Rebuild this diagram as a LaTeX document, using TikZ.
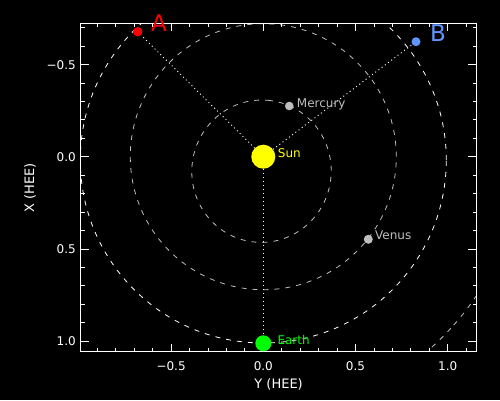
\documentclass[tikz,border=0pt]{standalone}
\usepackage{fontspec}
\setmainfont{DejaVu Sans}
\definecolor{pgray}{RGB}{190,190,190}
\definecolor{bblue}{RGB}{95,150,255}
\definecolor{sunyel}{RGB}{255,255,0}
\definecolor{egreen}{RGB}{0,255,0}
\definecolor{ared}{RGB}{255,0,0}
\begin{document}
\begin{tikzpicture}[x=1pt,y=-1pt,
  tickline/.style={white, line width=0.8pt},
  ticklab/.style={text=white, font=\fontsize{12}{14}\selectfont, inner sep=0pt},
  axtitle/.style={text=white, font=\fontsize{13}{15}\selectfont, inner sep=0pt},
  orbit/.style={line width=0.8pt, dash pattern=on 5pt off 6pt},
  sight/.style={white, line width=0.9pt, dash pattern=on 1pt off 3pt},
  body/.style={circle, inner sep=0pt, draw=none},
  lab/.style={inner sep=0pt, anchor=base west, font=\fontsize{12}{14}\selectfont},
  biglab/.style={inner sep=0pt, anchor=base west, font=\fontsize{23}{26}\selectfont}]
\fill[black] (0,0) rectangle (500,400);
\useasboundingbox (0,0) rectangle (500,400);
% orbits
\begin{scope}
\clip (80.5,23.5) rectangle (476.7,351);
\draw[orbit, pgray] (261.5,171.2) circle[x radius=71.2pt, y radius=69.7pt, rotate=83];
\draw[orbit, pgray] (263.3,156.7) circle[radius=133pt];
\draw[orbit, white] (263.3,160) circle[radius=183pt];
\draw[orbit, pgray] (243.7,139.3) circle[x radius=280.4pt, y radius=279.2pt, rotate=-41.5];
\end{scope}
% frame
\draw[tickline] (80.5,23.5) rectangle (476.7,351);
% horizontal axis ticks
\foreach \v in {-9,...,11}{
  \pgfmathsetmacro\tx{263.3+18.44*\v}
  \draw[tickline] (\tx,351) -- ++(0,-3.5);
  \draw[tickline] (\tx,23.5) -- ++(0,3.5);
}
\foreach \v/\t in {-5/−0.5,0/0.0,5/0.5,10/1.0}{
  \pgfmathsetmacro\tx{263.3+18.44*\v}
  \draw[tickline] (\tx,351) -- ++(0,-7);
  \draw[tickline] (\tx,23.5) -- ++(0,7);
  \node[ticklab, anchor=base] (bl\v) at (\tx,370) {\t};
}
% vertical axis ticks
\foreach \v in {-7,...,10}{
  \pgfmathsetmacro\ty{156.7+18.44*\v}
  \draw[tickline] (80.5,\ty) -- ++(4.2,0);
  \draw[tickline] (476.7,\ty) -- ++(-4.2,0);
}
\foreach \v/\t in {-5/−0.5,0/0.0,5/0.5,10/1.0}{
  \pgfmathsetmacro\ty{156.7+18.44*\v}
  \draw[tickline] (80.5,\ty) -- ++(8.5,0);
  \draw[tickline] (476.7,\ty) -- ++(-8.5,0);
  \node[ticklab, anchor=base east] (ll\v) at (76,{\ty+4.5}) {\t};
}
% axis titles
\node[axtitle, anchor=base] (ytitle) at (278.6,388) {Y (HEE)};
\node[axtitle, anchor=base, rotate=90] (xtitle) at (34,188) {X (HEE)};
% bodies
\node[body, fill=sunyel, minimum size=24pt] (sun) at (263.3,156.7) {};
\node[body, fill=pgray, minimum size=8.6pt] (mercury) at (289.3,106) {};
\node[body, fill=pgray, minimum size=9pt] (venus) at (368.3,239.3) {};
\node[body, fill=egreen, minimum size=16pt] (earth) at (263.3,343.3) {};
\node[body, fill=ared, minimum size=9.4pt] (sta) at (137.7,31.7) {};
\node[body, fill=bblue, minimum size=9pt] (stb) at (416,41.7) {};
% lines of sight
\draw[sight] (sun) -- (sta);
\draw[sight] (sun) -- (stb);
\draw[sight] (sun) -- (earth);
% labels
\node[lab, text=sunyel] (sunl) at (277.7,157) {Sun};
\node[lab, text=pgray] (mercl) at (296.7,107.3) {Mercury};
\node[lab, text=pgray] (venl) at (375,239.3) {Venus};
\node[lab, text=egreen] (earthl) at (277.3,344) {Earth};
\node[biglab, text=ared] (stal) at (151,31.7) {A};
\node[biglab, text=bblue] (stbl) at (430,41.7) {B};
\end{tikzpicture}
\end{document}
